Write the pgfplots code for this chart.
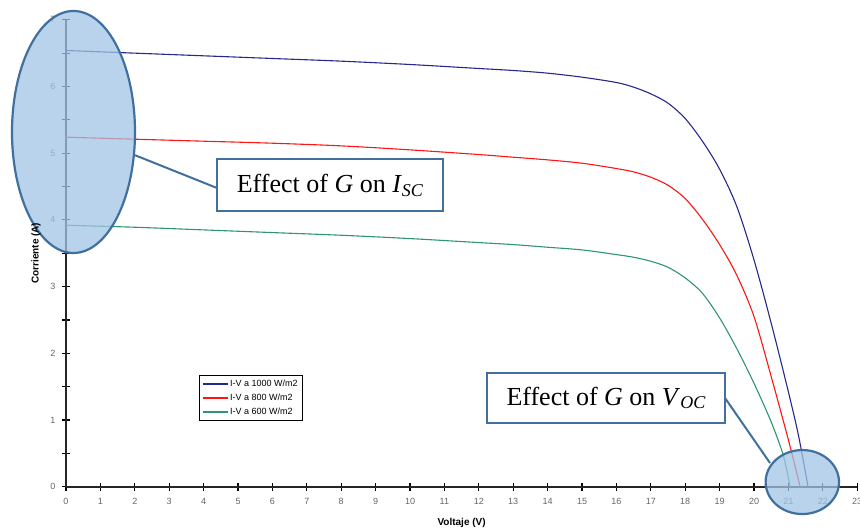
\documentclass[border=0pt]{standalone}
\usepackage{fontspec}
\setmainfont{Liberation Sans}
\newfontfamily\timesfont{Liberation Serif}
\usepackage{pgfplots}
\pgfplotsset{compat=1.18}
\definecolor{cA}{RGB}{40,40,140}
\definecolor{cB}{RGB}{255,20,20}
\definecolor{cC}{RGB}{45,150,110}
\definecolor{elfill}{RGB}{160,196,228}
\definecolor{eldraw}{RGB}{65,112,158}
\begin{document}
\begin{tikzpicture}
\begin{axis}[
    scale only axis,
    width=791.2pt, height=466.9pt,
    xmin=0, xmax=23, ymin=0, ymax=7,
    axis lines=left,
    axis line style={-, line width=1.8pt, black!85},
    xtick={0,...,23},
    ytick={0,...,7},
    minor ytick={0.5,1.5,...,6.5},
    tick align=center,
    major tick length=8pt, minor tick length=8pt,
    tick style={line width=1.1pt, black},
    ticklabel style={font=\fontsize{9}{10}\selectfont, text=black!60},
    xticklabel style={yshift=-4pt},
    yticklabel style={xshift=-3pt},
    /pgf/number format/assume math mode=true,
    xlabel={\textbf{Voltaje (V)}},
    ylabel={\textbf{Corriente (A)}},
    label style={font=\fontsize{10}{12}\selectfont},
    xlabel style={yshift=-7pt},
    ylabel style={yshift=3pt},
    clip=false,
    legend style={at={(axis cs:3.866,1.675)}, anchor=north west, draw=black, line width=1pt,
        font=\fontsize{9}{10}\selectfont, inner sep=2.5pt, row sep=2pt},
    legend cell align=left,
    legend image code/.code={\draw[#1, line width=1.1pt] (0pt,0pt) -- (25pt,0pt);},
]
\addplot[cA, line width=1.1pt, smooth] coordinates {
(0,6.54) (2,6.50) (4,6.46) (6,6.42) (8,6.38) (10,6.33) (12,6.27) (13,6.24)
(14,6.20) (15,6.14) (16,6.06) (16.5,5.99) (17,5.89) (17.5,5.75) (18,5.52)
(18.5,5.18) (19,4.76) (19.5,4.20) (20,3.40) (20.5,2.45) (21,1.42) (21.3,0.75)
(21.57,0)};
\addlegendentry{I-V a 1000 W/m2}
\addplot[cB, line width=1.1pt, smooth] coordinates {
(0,5.24) (2,5.21) (4,5.18) (6,5.15) (8,5.11) (10,5.05) (12,4.98) (13,4.94)
(14,4.90) (15,4.85) (16,4.77) (16.5,4.72) (17,4.64) (17.5,4.52) (18,4.32)
(18.5,4.01) (19,3.63) (19.5,3.17) (20,2.55) (20.5,1.65) (21,0.70) (21.34,0)};
\addlegendentry{I-V a 800 W/m2}
\addplot[cC, line width=1.1pt, smooth] coordinates {
(0,3.92) (2,3.89) (4,3.85) (6,3.81) (8,3.77) (10,3.72) (12,3.66) (13,3.63)
(14,3.59) (15,3.55) (16,3.48) (16.5,3.44) (17,3.38) (17.5,3.29) (18,3.13)
(18.5,2.90) (19,2.53) (19.5,2.07) (20,1.55) (20.5,0.97) (20.85,0.47) (21.05,0)};
\addlegendentry{I-V a 600 W/m2}
% annotations
\draw[eldraw, line width=2.2pt, fill=elfill, fill opacity=0.75]
  (axis cs:0.218,5.318) ellipse [x radius=61.5pt, y radius=121pt];
\draw[eldraw, line width=2.2pt, fill=elfill, fill opacity=0.75]
  (axis cs:21.404,0.07) ellipse [x radius=36.7pt, y radius=32pt];
\draw[eldraw, line width=2pt] (axis cs:2.006,4.970) -- (axis cs:4.390,4.478);
\draw[eldraw, line width=2pt] (axis cs:19.157,1.330) -- (axis cs:20.465,0.355);
\node[draw=eldraw, line width=2pt, fill=white, minimum width=226pt, minimum height=52pt,
  inner sep=0pt, font=\timesfont\fontsize{26}{30}\selectfont]
  at (axis cs:7.674,4.52) {Effect of \textit{G} on \textit{I}\raisebox{-0.3ex}{\fontsize{18}{20}\selectfont\textit{SC}}};
\node[draw=eldraw, line width=2pt, fill=white, minimum width=238pt, minimum height=50pt,
  inner sep=0pt, font=\timesfont\fontsize{26}{30}\selectfont]
  at (axis cs:15.698,1.33) {Effect of \textit{G} on \textit{V}\raisebox{-0.3ex}{\fontsize{18}{20}\selectfont\textit{OC}}};
\coordinate (bbsw) at (axis cs:-1.9186,-0.634);
\coordinate (bbne) at (axis cs:23.081,7.2969);
\end{axis}
\pgfresetboundingbox
\path (bbsw) rectangle (bbne);
\end{tikzpicture}
\end{document}
